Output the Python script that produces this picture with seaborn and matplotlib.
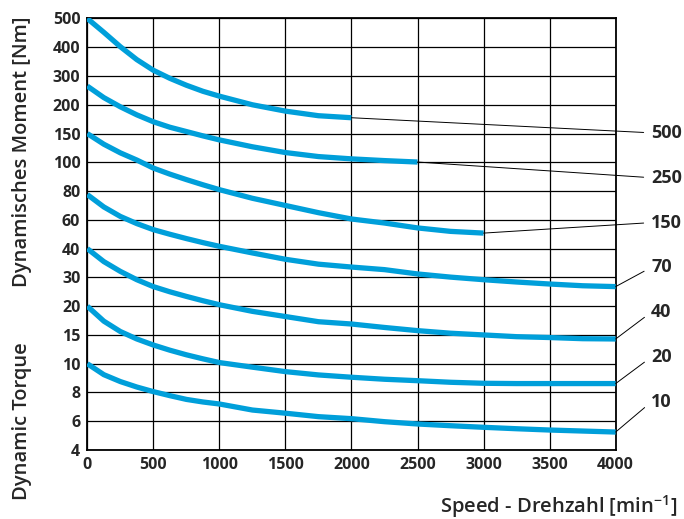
import matplotlib.pyplot as plt
import numpy as np
import pandas as pd
import seaborn as sns

# y axis ticks (non-linear, evenly spaced in the chart)
y_ticks = [4, 6, 8, 10, 15, 20, 30, 40, 60, 80, 100, 150, 200, 300, 400, 500]
x_ticks = [0, 500, 1000, 1500, 2000, 2500, 3000, 3500, 4000]

# speed grid (min^-1)
speed = [0, 125, 250, 375, 500, 625, 750, 875, 1000, 1250, 1500, 1750, 2000,
         2250, 2500, 2750, 3000, 3250, 3500, 3750, 4000]

# dynamic torque curves (Nm)
curve_500 = [500, 452, 402, 357, 320, 292, 268, 247, 230, 200, 189, 181, 177.5]
curve_250 = [265, 225, 196.5, 182.5, 170.5, 161, 153.5, 146, 139, 127, 117,
             110, 106, 103, 100.5]
curve_150 = [150, 131.5, 116.5, 104, 96, 91.8, 88, 84.4, 81, 75, 70, 65,
             60.6, 57.8, 54.4, 52, 50.8]
curve_70 = [77.6, 69, 62.4, 57.4, 53.2, 50, 47, 44.2, 41.6, 38.5, 36.3, 34.6,
            33.6, 32.7, 31.2, 30.1, 29.2, 28.4, 27.7, 27.1, 26.8]
curve_40 = [40, 35.5, 32.1, 29.2, 26.8, 25, 23.4, 21.9, 20.5, 19.1, 18.2,
            17.3, 16.9, 16.3, 15.75, 15.3, 15.0, 14.7, 14.55, 14.35, 14.3]
curve_20 = [20, 17.4, 15.6, 14.3, 13.25, 12.35, 11.55, 10.85, 10.2, 9.76, 9.45,
            9.22, 9.06, 8.92, 8.82, 8.71, 8.64, 8.62, 8.62, 8.62, 8.62]
curve_10 = [10, 9.24, 8.76, 8.38, 8.06, 7.78, 7.52, 7.34, 7.2, 6.78, 6.56,
            6.32, 6.18, 5.97, 5.81, 5.69, 5.58, 5.48, 5.39, 5.32, 5.25]

labels = ['500', '250', '150', '70', '40', '20', '10']
curves = [curve_500, curve_250, curve_150, curve_70, curve_40, curve_20, curve_10]

# long table for seaborn
frames = []
for lab, c in zip(labels, curves):
    frames.append(pd.DataFrame({'speed': speed[:len(c)], 'torque': c, 'curve': lab}))
df = pd.concat(frames, ignore_index=True)

sns.set_style('white')
plt.rcParams['font.family'] = ['Open Sans', 'DejaVu Sans']
plt.rcParams['mathtext.default'] = 'regular'

blue = '#009fda'

fig = plt.figure(figsize=(6.84, 5.19), dpi=100)
ax = fig.add_axes([0.1276, 0.1329, 0.7725, 0.8315])

# piecewise scale so the tick values sit evenly spaced
idx = np.arange(len(y_ticks), dtype=float)
def fwd(v):
    return np.interp(v, y_ticks, idx)
def inv(p):
    return np.interp(p, idx, y_ticks)
ax.set_yscale('function', functions=(fwd, inv))

sns.lineplot(data=df, x='speed', y='torque', units='curve', estimator=None,
             color=blue, lw=3.8, ax=ax, zorder=3, solid_capstyle='butt',
             solid_joinstyle='round')

ax.set_xlim(0, 4000)
ax.set_ylim(4, 500)
ax.set_xticks(x_ticks)
ax.set_yticks(y_ticks)
ax.set_xticklabels([str(t) for t in x_ticks], fontsize=11.5, fontweight='bold')
ax.set_yticklabels([str(t) for t in y_ticks], fontsize=11.5, fontweight='bold')
ax.tick_params(length=0, pad=5)
ax.grid(True, color='black', lw=0.9)
for s in ax.spines.values():
    s.set_color('black')
    s.set_linewidth(1.3)
ax.set_xlabel('')
ax.set_ylabel('')

# leader lines to the curve labels
for k, (lab, c) in enumerate(zip(labels, curves)):
    yf = 0.104 * (7 - k) + 0.007
    ax.annotate(lab, xy=(speed[len(c) - 1], c[-1]), xycoords='data',
                xytext=(1.067, yf), textcoords='axes fraction',
                fontsize=13, fontweight='bold', va='center', ha='left',
                annotation_clip=False,
                arrowprops=dict(arrowstyle='-', lw=0.7, color='black',
                                shrinkA=3, shrinkB=0, relpos=(0, 0.5)))

fig.text(0.032, 0.707, 'Dynamisches Moment [Nm]', rotation=90, fontsize=14.5,
         fontweight='semibold', ha='center', va='center')
fig.text(0.032, 0.189, 'Dynamic Torque', rotation=90, fontsize=14.5,
         fontweight='semibold', ha='center', va='center')
fig.text(0.99, 0.024, 'Speed - Drehzahl [min$^{-1}$]', fontsize=14.5,
         fontweight='semibold', ha='right', va='center')

fig.savefig('out.png', dpi=100)
